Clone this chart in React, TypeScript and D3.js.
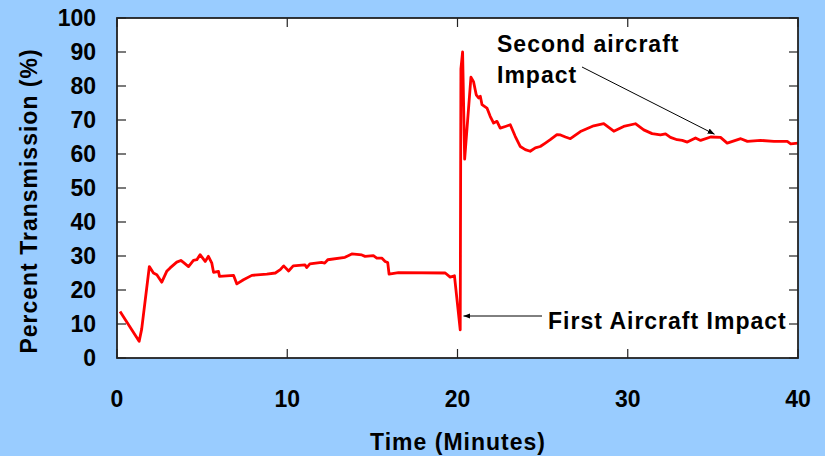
import React from "react";
import * as d3 from "d3";

const width = 825;
const height = 456;
const margin = { top: 18, right: 27, bottom: 98, left: 117 };

// readings: minutes and percent transmission
const minutes = [
  0.18, 1.3, 1.45, 1.9, 2.14, 2.34, 2.63, 2.92, 3.12, 3.51, 3.75, 3.9, 4.2,
  4.49, 4.69, 4.88, 5.18, 5.37, 5.57, 5.67, 5.96, 6.02, 6.85, 7.04, 7.43,
  7.92, 8.8, 9.3, 9.59, 9.79, 10.08, 10.35, 11.04, 11.14, 11.33, 12.02, 12.2,
  12.38, 13.39, 13.79, 14.38, 14.57, 15.06, 15.26, 15.55, 15.75, 15.9, 15.98,
  16.53, 19.28, 19.57, 19.82, 20.16, 20.2, 20.3, 20.42, 20.79, 20.94, 21.1,
  21.24, 21.34, 21.44, 21.73, 21.92, 22.12, 22.32, 22.51, 22.81, 23.1, 23.39,
  23.69, 23.98, 24.27, 24.57, 24.86, 25.16, 25.45, 25.84, 26.05, 26.34, 26.63,
  27.22, 28, 28.59, 29.18, 29.76, 30.45, 30.94, 31.43, 31.92, 32.22, 32.51,
  32.9, 33.2, 33.5, 33.98, 34.28, 34.87, 35.45, 35.84, 36.64, 37.03, 37.8,
  38.59, 39.37, 39.57, 40,
];
const transmission = [
  13.7, 4.9, 8.5, 26.9, 25, 24.5, 22.3, 25.5, 26.5, 28.2, 28.7, 28.1, 26.9,
  28.7, 28.9, 30.4, 28.4, 29.9, 27.9, 25.2, 25.5, 24, 24.3, 21.8, 23, 24.3,
  24.7, 25, 26, 27.1, 25.6, 27.1, 27.4, 26.6, 27.7, 28.1, 27.9, 28.9, 29.6,
  30.6, 30.3, 29.9, 30.1, 29.4, 29.4, 28.4, 28.1, 24.7, 25.1, 25, 23.8, 24.2,
  8.3, 85, 90, 58.5, 82.6, 81.3, 77.4, 76.5, 77, 74.5, 73.5, 71.1, 69.1, 69.6,
  67.6, 68.1, 68.6, 65.2, 62.2, 61.3, 60.8, 61.8, 62.2, 63.2, 64.2, 65.7, 65.6,
  65, 64.5, 66.6, 68.3, 68.9, 66.7, 68.1, 68.9, 67.1, 66, 65.6, 65.9, 64.9,
  64.2, 64, 63.5, 64.7, 64, 65, 64.9, 63.2, 64.5, 63.7, 64, 63.7, 63.7, 63,
  63.2,
];

const xTicks = [0, 10, 20, 30, 40];
const yTicks = [0, 10, 20, 30, 40, 50, 60, 70, 80, 90, 100];

const xTitle = "Time (Minutes)";
const yTitle = "Percent Transmission (%)";

// annotations: text lines and the data point each arrow points to
const firstLabel = "First Aircraft Impact";
const firstPoint = { t: 20.35, v: 12.5 };
const secondLabel = ["Second aircraft", "Impact"];
const secondPoint = { t: 35.1, v: 65.8 };

const font = "'Liberation Sans', Arial, sans-serif";
const tickLen = 9;

export default function App() {
  const x = d3
    .scaleLinear()
    .domain([0, 40])
    .range([margin.left, width - margin.right]);
  const y = d3
    .scaleLinear()
    .domain([0, 100])
    .range([height - margin.bottom, margin.top]);

  const line = d3
    .line<number>()
    .x((d, i) => x(minutes[i]))
    .y((d) => y(d));

  const x0 = x(0);
  const x1 = x(40);
  const y0 = y(0);
  const y1 = y(100);

  return (
    <svg
      width={width}
      height={height}
      style={{ position: "absolute", left: 0, top: 0, background: "#99CCFF" }}
      fontFamily={font}
      fontWeight="bold"
    >
      <defs>
        <marker
          id="head"
          viewBox="0 0 10 10"
          refX="10"
          refY="5"
          markerWidth="7"
          markerHeight="7"
          orient="auto"
        >
          <path d="M0,1 L10,5 L0,9 z" fill="#000" />
        </marker>
      </defs>

      <rect x={x0} y={y1} width={x1 - x0} height={y0 - y1} fill="#fff" />

      {/* ticks on all four sides, pointing in */}
      {yTicks.map((t) => (
        <g key={"y" + t} stroke="#222" strokeWidth={1.2}>
          <line x1={x0} x2={x0 + tickLen} y1={y(t)} y2={y(t)} />
          <line x1={x1} x2={x1 - tickLen} y1={y(t)} y2={y(t)} />
        </g>
      ))}
      {xTicks.map((t) => (
        <g key={"x" + t} stroke="#222" strokeWidth={1.2}>
          <line x1={x(t)} x2={x(t)} y1={y0} y2={y0 - tickLen} />
          <line x1={x(t)} x2={x(t)} y1={y1} y2={y1 + tickLen} />
        </g>
      ))}

      <path
        d={line(transmission) || ""}
        fill="none"
        stroke="#FF0000"
        strokeWidth={2.8}
        strokeLinejoin="round"
      />

      <rect
        x={x0}
        y={y1}
        width={x1 - x0}
        height={y0 - y1}
        fill="none"
        stroke="#222"
        strokeWidth={1.8}
      />

      {yTicks.map((t) => (
        <text
          key={"yl" + t}
          x={x0 - 21}
          y={y(t)}
          dy="0.36em"
          textAnchor="end"
          fontSize={23}
        >
          {t}
        </text>
      ))}
      {xTicks.map((t) => (
        <text
          key={"xl" + t}
          x={x(t)}
          y={y0 + 49}
          textAnchor="middle"
          fontSize={23}
        >
          {t}
        </text>
      ))}

      <text
        x={458}
        y={450}
        textAnchor="middle"
        fontSize={23}
        letterSpacing={1}
      >
        {xTitle}
      </text>
      <text
        transform={`translate(37,201) rotate(-90)`}
        textAnchor="middle"
        fontSize={23}
        letterSpacing={1}
      >
        {yTitle}
      </text>

      {/* first impact */}
      <line
        x1={542}
        y1={316}
        x2={x(firstPoint.t)}
        y2={316}
        stroke="#000"
        strokeWidth={1}
        markerEnd="url(#head)"
      />
      <text x={548} y={329} fontSize={23} letterSpacing={1}>
        {firstLabel}
      </text>

      {/* second impact */}
      <line
        x1={582}
        y1={67}
        x2={x(secondPoint.t)}
        y2={y(secondPoint.v)}
        stroke="#000"
        strokeWidth={1}
        markerEnd="url(#head)"
      />
      {secondLabel.map((s, i) => (
        <text
          key={s}
          x={497}
          y={52 + i * 31}
          fontSize={23}
          letterSpacing={1}
          fill="#000"
        >
          {s}
        </text>
      ))}
    </svg>
  );
}
